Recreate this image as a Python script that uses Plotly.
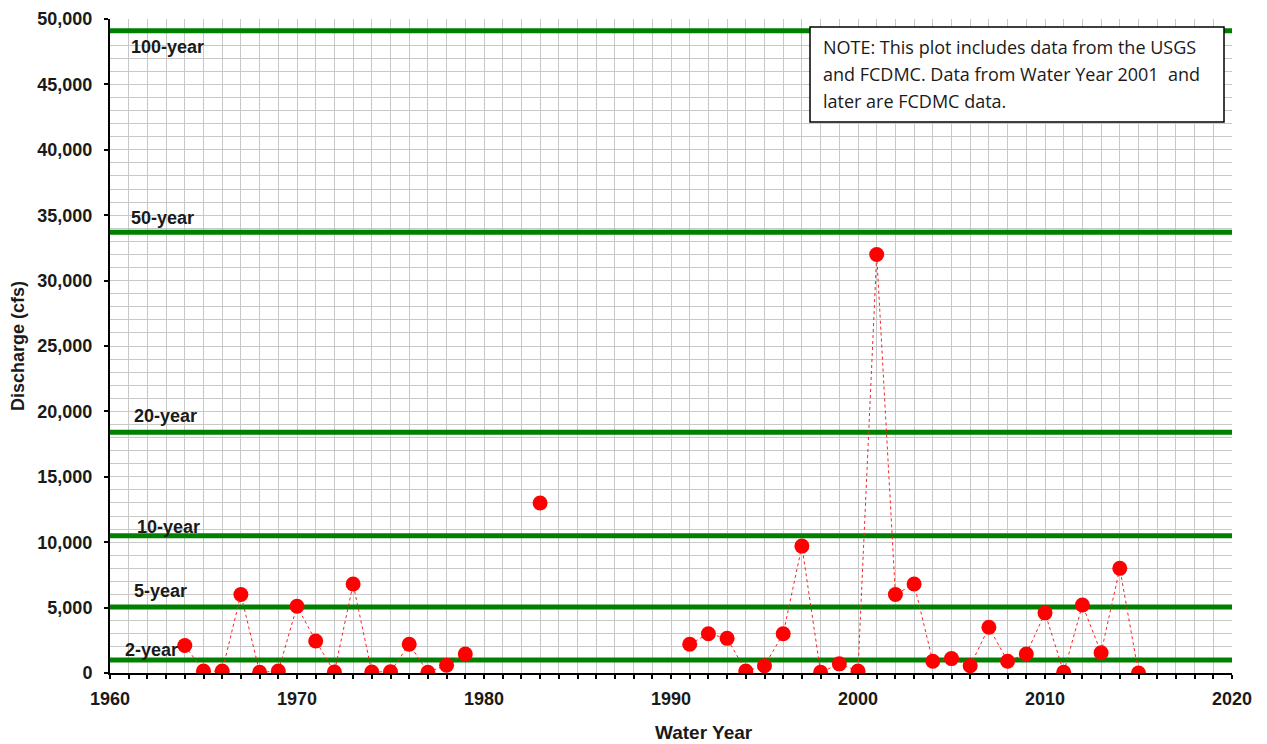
import plotly.graph_objects as go

years = [1964, 1965, 1966, 1967, 1968, 1969, 1970, 1971, 1972, 1973, 1974, 1975, 1976, 1977, 1978, 1979,
         1980, 1983, 1984,
         1991, 1992, 1993, 1994, 1995, 1996, 1997, 1998, 1999, 2000, 2001, 2002, 2003, 2004, 2005, 2006,
         2007, 2008, 2009, 2010, 2011, 2012, 2013, 2014, 2015]
discharge = [2100, 150, 150, 6000, 50, 150, 5100, 2450, 80, 6800, 80, 100, 2200, 60, 600, 1450,
             None, 13000, None,
             2200, 3000, 2650, 150, 550, 3000, 9700, 50, 700, 150, 32000, 6000, 6800, 900, 1100, 550,
             3500, 900, 1450, 4600, 50, 5200, 1550, 8000, 0]

return_labels = ["2-year", "5-year", "10-year", "20-year", "50-year", "100-year"]
return_values = [1000, 5050, 10500, 18400, 33700, 49100]
label_shift = [10, 16, 9, 16, 14, -16]
label_x = [1960.7, 1961.2, 1961.35, 1961.15, 1961.0, 1961.0]

note_lines = ["NOTE: This plot includes data from the USGS",
              "and FCDMC. Data from Water Year 2001  and",
              "later are FCDMC data."]

fig = go.Figure()

for lab, val in zip(return_labels, return_values):
    fig.add_trace(go.Scatter(x=[1960, 2020], y=[val, val], mode="lines",
                             line=dict(color="#008000", width=5), hoverinfo="skip",
                             showlegend=False))

fig.add_trace(go.Scatter(x=years, y=discharge, mode="lines+markers",
                         line=dict(color="#ff2020", width=1, dash="dot"),
                         marker=dict(color="#ff0000", size=15),
                         connectgaps=False, showlegend=False))

for lab, val, sh, lx in zip(return_labels, return_values, label_shift, label_x):
    fig.add_annotation(x=lx, y=val, text=lab, showarrow=False, xanchor="left",
                       yanchor="middle", yshift=sh,
                       font=dict(family="Liberation Sans, Arial", size=18, color="#1a1a1a",
                                 weight="bold"))

# note box (screen pixel layout: plot area x 110..1232, y 19..673)
W, H, L, T = 1122, 654, 110, 19
def px(x):
    return (x - L) / W
def py(y):
    return 1 - (y - T) / H

fig.add_shape(type="rect", xref="paper", yref="paper",
              x0=px(810), x1=px(1224), y0=py(122), y1=py(27),
              fillcolor="white", line=dict(color="black", width=1.5), layer="above")
for i, line in enumerate(note_lines):
    fig.add_annotation(xref="paper", yref="paper", x=px(821), y=py(47 + 27 * i),
                       xanchor="left", yanchor="middle", text=line, showarrow=False,
                       font=dict(family="Open Sans, Noto Sans", size=18, color="#1a1a1a"))

# x-axis title (placed as in the reference, slightly right of centre)
fig.add_annotation(xref="paper", yref="paper", x=px(704), y=py(732), xanchor="center",
                   yanchor="middle", text="Water Year", showarrow=False,
                   font=dict(family="Liberation Sans, Arial", size=19, color="#1a1a1a",
                             weight="bold"))

axis_font = dict(family="Liberation Sans, Arial", size=18, color="#1a1a1a", weight="bold")

fig.update_xaxes(range=[1960, 2020], dtick=10, tick0=1960, showgrid=True,
                 gridcolor="#c8c8c8", gridwidth=1, automargin=False,
                 minor=dict(dtick=1, showgrid=True, gridcolor="#c8c8c8", ticks="outside",
                            ticklen=4, tickcolor="black", tickwidth=2),
                 ticks="outside", ticklen=4, tickwidth=2, tickcolor="black",
                 ticklabelstandoff=4,
                 showline=True, linecolor="black", linewidth=2,
                 tickfont=axis_font, zeroline=False)

fig.update_yaxes(range=[0, 50000], dtick=5000, tickformat=",d", showgrid=True,
                 gridcolor="#c8c8c8", gridwidth=1, automargin=False,
                 minor=dict(dtick=1000, showgrid=True, gridcolor="#c8c8c8"),
                 ticks="outside", ticklen=4, tickwidth=2, tickcolor="black",
                 ticklabelstandoff=8,
                 showline=True, linecolor="black", linewidth=2,
                 tickfont=axis_font, zeroline=False,
                 title=dict(text="Discharge (cfs)", font=axis_font, standoff=14))

fig.update_layout(width=1259, height=736, plot_bgcolor="white", paper_bgcolor="white",
                  margin=dict(l=102, r=35, t=11, b=71), showlegend=False)

fig.write_html("out.html")
